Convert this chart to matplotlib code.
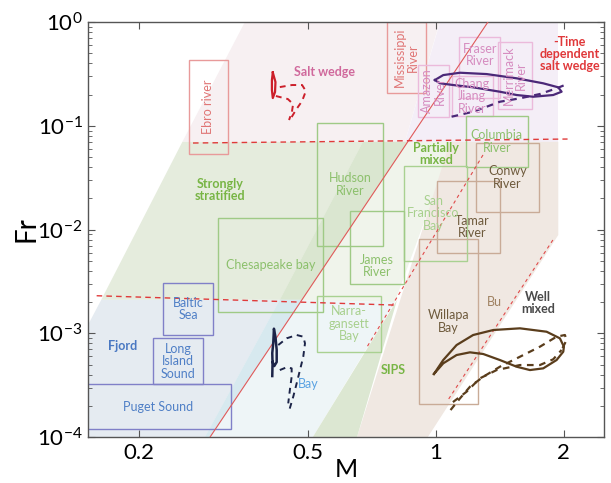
import numpy as np
import matplotlib
matplotlib.use('Agg')
import matplotlib.pyplot as plt
from matplotlib.patches import Rectangle
from matplotlib.ticker import NullLocator, NullFormatter, FixedLocator

plt.rcParams['font.family'] = ['Lato', 'DejaVu Sans']
plt.rcParams['mathtext.fontset'] = 'custom'
plt.rcParams['mathtext.rm'] = 'Lato'
plt.rcParams['mathtext.it'] = 'Lato'
plt.rcParams['axes.unicode_minus'] = False

# ---- shaded regimes (M, Fr corners) ----
salt_wedge_m = [0.355, 1.02, 0.845, 0.253]
salt_wedge_fr = [1.0, 1.0, 0.07, 0.07]
td_wedge_m = [1.02, 1.94, 1.94, 0.845]
td_wedge_fr = [1.0, 1.0, 0.07, 0.07]
strat_m = [0.253, 0.858, 0.484, 0.163]
strat_fr = [0.07, 0.07, 0.0021, 0.0021]
partial_m = [0.673, 1.10, 0.80, 0.429]
partial_fr = [0.07, 0.07, 0.0020, 0.0021]
overlap_m = [0.673, 0.858, 0.484, 0.429]
overlap_fr = [0.07, 0.07, 0.0021, 0.0021]
fjord_m = [0.163, 0.484, 0.294, 0.110]
fjord_fr = [0.0021, 0.0021, 1e-4, 1e-4]
bay_m = [0.429, 0.80, 0.513, 0.286]
bay_fr = [0.0021, 0.0020, 1e-4, 1e-4]
band_m = [0.429, 0.484, 0.294, 0.286]
band_fr = [0.0021, 0.0021, 1e-4, 1e-4]
wellmix_m = [1.079, 1.94, 1.94, 0.957, 0.652]
wellmix_fr = [0.07, 0.07, 0.00885, 1e-4, 1e-4]
sips_m = [0.513, 0.652, 0.81]
sips_fr = [1e-4, 1e-4, 0.0021]

regions = [
    (salt_wedge_m, salt_wedge_fr, '#f7f0f2'),
    (td_wedge_m, td_wedge_fr, '#f4eef7'),
    (strat_m, strat_fr, '#e5ecdd'),
    (partial_m, partial_fr, '#f0f4eb'),
    (overlap_m, overlap_fr, '#dae6d0'),
    (fjord_m, fjord_fr, '#e5ebf1'),
    (bay_m, bay_fr, '#eef5f7'),
    (band_m, band_fr, '#d7e9ef'),
    (wellmix_m, wellmix_fr, '#f0e8e2'),
    (sips_m, sips_fr, '#dce7d2'),
]

# ---- boundary lines ----
red_line_m = [1.325, 0.294]
red_line_fr = [1.0, 1e-4]
upper_dash_m = [0.268, 2.04]
upper_dash_fr = [0.0682, 0.0745]
lower_dash_m = [0.159, 0.80]
lower_dash_fr = [0.0023, 0.00187]
diag1_m = [1.29, 0.688]
diag1_fr = [0.0523, 7.37e-4]
diag2_m = [1.884, 1.067]
diag2_fr = [0.00792, 2.27e-4]

# ---- estuary boxes ----
box_names = ['Ebro river', 'Mississippi\nRiver', 'Amazon\nRiver', 'Fraser\nRiver',
             'Chang\nJiang\nRiver', 'Merrimack\nRiver', 'Columbia\nRiver', 'Conwy\nRiver',
             'Tamar\nRiver', 'San\nFrancisco\nBay', 'Willapa\nBay', 'Hudson\nRiver',
             'James\nRiver', 'Chesapeake bay', 'Narra-\ngansett\nBay', 'Baltic\nSea',
             'Long\nIsland\nSound', 'Puget Sound']
box_m_lo = [0.262, 0.767, 0.907, 1.132, 1.090, 1.399, 1.176, 1.242, 1.005, 0.841,
            0.912, 0.525, 0.627, 0.307, 0.525, 0.228, 0.216, 0.15]
box_m_hi = [0.324, 0.947, 1.073, 1.414, 1.361, 1.682, 1.646, 1.747, 1.414, 1.183,
            1.255, 0.750, 0.841, 0.542, 0.742, 0.299, 0.283, 0.329]
box_fr_lo = [0.0534, 0.207, 0.1214, 0.185, 0.124, 0.145, 0.040, 0.01475, 0.00594,
             0.00497, 0.000208, 0.00693, 0.00298, 0.0016, 0.000659, 0.000962,
             0.000324, 0.000119]
box_fr_hi = [0.430, 1.0, 0.385, 0.717, 0.302, 0.642, 0.124, 0.0682, 0.0293, 0.0409,
             0.0081, 0.1063, 0.01508, 0.0129, 0.00229, 0.00305, 0.0009, 0.000324]
box_group = ['red', 'red', 'pink', 'pink', 'pink', 'pink', 'green', 'brown', 'brown',
             'lgreen', 'brown', 'green', 'green', 'green', 'lgreen', 'blue', 'blue', 'blue']
box_rot = [90, 90, 90, 0, 0, 90, 0, 0, 0, 0, 0, 0, 0, 0, 0, 0, 0, 0]
# label positions that are not the box centre
label_pos = {'Fraser\nRiver': (1.269, 0.481), 'James\nRiver': (0.726, 0.00445),
             'Tamar\nRiver': (1.215, 0.01057), 'San\nFrancisco\nBay': (0.985, 0.0143)}

edge_col = {'red': '#e89a9a', 'pink': '#ebbadb', 'green': '#9fca86', 'lgreen': '#a9d191',
            'brown': '#c9ab97', 'blue': '#8080c8'}
text_col = {'red': '#e07575', 'pink': '#d68cc0', 'green': '#8cc06c', 'lgreen': '#a8d08e',
            'brown': '#6e5a3c', 'blue': '#4f7fc6'}

# ---- tidal trajectories ----
sw_solid_m = [0.413, 0.411, 0.411, 0.413, 0.418, 0.419, 0.413]
sw_solid_fr = [0.326, 0.276, 0.221, 0.185, 0.2115, 0.264, 0.326]
sw_dash1_m = [0.429, 0.458, 0.484, 0.494, 0.484, 0.468, 0.453]
sw_dash1_fr = [0.236, 0.247, 0.247, 0.216, 0.173, 0.142, 0.1136]
sw_dash2_m = [0.420, 0.448, 0.461, 0.458, 0.451]
sw_dash2_fr = [0.1935, 0.181, 0.162, 0.1357, 0.1136]

td_solid_m = [0.994, 1.040, 1.139, 1.316, 1.548, 1.788, 1.939, 1.975, 1.887, 1.694,
              1.548, 1.414, 1.223, 1.098, 1.022, 0.994]
td_solid_fr = [0.276, 0.308, 0.3245, 0.315, 0.2867, 0.2566, 0.2348, 0.2129, 0.1979,
               0.1905, 0.1979, 0.2129, 0.2348, 0.247, 0.2566, 0.276]
td_dash_m = [1.088, 1.223, 1.316, 1.414, 1.576, 1.756, 1.922, 2.029]
td_dash_fr = [0.1223, 0.1366, 0.1527, 0.1705, 0.1839, 0.2023, 0.2296, 0.251]

bay_solid_m = [0.4118, 0.4124, 0.4118, 0.414, 0.4149, 0.4155, 0.419, 0.4218, 0.4218,
               0.4163, 0.4126]
bay_solid_fr = [3.87e-4, 5.16e-4, 6.45e-4, 8.05e-4, 9.62e-4, 1.107e-3, 9.2e-4, 6.9e-4,
                5.28e-4, 4.83e-4, 5.28e-4]
bay_dash1_m = [0.4254, 0.4452, 0.470, 0.4871, 0.4917, 0.4871, 0.4785, 0.470, 0.4614, 0.4516]
bay_dash1_fr = [7.7e-4, 8.94e-4, 9.62e-4, 9.27e-4, 8.0e-4, 5.94e-4, 4.42e-4, 3.29e-4,
                2.45e-4, 1.82e-4]
bay_dash2_m = [0.429, 0.4452, 0.4574, 0.4574, 0.453, 0.449]
bay_dash2_fr = [4.42e-4, 4.7e-4, 4.59e-4, 3.81e-4, 2.84e-4, 2.11e-4]

wm_solid_m = [0.9888, 1.040, 1.118, 1.223, 1.364, 1.576, 1.821, 1.957, 2.0, 1.993,
              1.922, 1.788, 1.664, 1.548, 1.414, 1.292, 1.202, 1.118, 1.040, 0.9888]
wm_solid_fr = [4.05e-4, 5.52e-4, 7.7e-4, 9.62e-4, 1.075e-3, 1.116e-3, 1.035e-3, 8.94e-4,
               7.42e-4, 6.64e-4, 5.52e-4, 4.59e-4, 4.42e-4, 4.76e-4, 5.52e-4, 6.31e-4,
               6.55e-4, 6.17e-4, 5.13e-4, 4.05e-4]
wm_dash1_m = [1.082, 1.139, 1.202, 1.292, 1.414, 1.576, 1.756, 1.922, 2.011, 2.029, 1.975]
wm_dash1_fr = [1.82e-4, 2.36e-4, 3.05e-4, 3.81e-4, 4.76e-4, 5.94e-4, 7.42e-4, 9.27e-4,
               9.62e-4, 8.61e-4, 6.9e-4]
wm_dash2_m = [1.096, 1.180, 1.269, 1.389, 1.576, 1.756, 1.887, 1.975]
wm_dash2_fr = [2.17e-4, 2.73e-4, 3.68e-4, 4.42e-4, 4.94e-4, 4.94e-4, 5.61e-4, 6.9e-4]

# ---- regime labels ----
regime_labels = ['Salt wedge', '-Time\ndependent\nsalt wedge', 'Partially\nmixed',
                 'Strongly\nstratified', 'Fjord', 'Bay', 'SIPS', 'Bu', 'Well\nmixed']
regime_m = [0.548, 2.066, 1.0, 0.310, 0.183, 0.50, 0.792, 1.369, 1.737]
regime_fr = [0.33, 0.491, 0.0534, 0.024, 7.54e-4, 3.24e-4, 4.42e-4, 0.0020, 0.00196]
regime_col = ['#d0699c', '#e0383a', '#78b545', '#78b545', '#4a78c2', '#5aa2e2',
              '#78b545', '#a08262', '#4a4a4a']
regime_bold = [True, True, True, True, True, False, True, False, True]

fig = plt.figure(figsize=(6.11, 4.83), dpi=100)
ax = fig.add_axes([0.144, 0.0952, 0.8445, 0.8592])
ax.set_xscale('log')
ax.set_yscale('log')

for m, fr, c in regions:
    ax.fill(m, fr, color=c, lw=0, zorder=0)

for i, name in enumerate(box_names):
    g = box_group[i]
    m0, m1, f0, f1 = box_m_lo[i], box_m_hi[i], box_fr_lo[i], box_fr_hi[i]
    ax.add_patch(Rectangle((m0, f0), m1 - m0, f1 - f0, fill=False,
                           ec=edge_col[g], lw=1.0, zorder=2))
    xc, yc = label_pos.get(name, (np.sqrt(m0 * m1), np.sqrt(f0 * f1)))
    ax.text(xc, yc, name, ha='center', va='center', rotation=box_rot[i],
            color=text_col[g], fontsize=9, linespacing=1.05, zorder=5)

ax.plot(red_line_m, red_line_fr, color='#e05a5a', lw=0.8, zorder=3)
ax.plot(upper_dash_m, upper_dash_fr, color='#e03a3a', lw=1.0, ls=(0, (4, 3)), zorder=3)
ax.plot(lower_dash_m, lower_dash_fr, color='#e03a3a', lw=1.0, ls=(0, (4, 3)), zorder=3)
ax.plot(diag1_m, diag1_fr, color='#e04a4a', lw=0.8, ls=(0, (3, 3)), zorder=3)
ax.plot(diag2_m, diag2_fr, color='#e04a4a', lw=0.8, ls=(0, (3, 3)), zorder=3)

ax.plot(sw_solid_m, sw_solid_fr, color='#cc1f2a', lw=1.6, zorder=4)
ax.plot(sw_dash1_m, sw_dash1_fr, color='#cc1f2a', lw=1.4, ls=(0, (3, 2.5)), zorder=4)
ax.plot(sw_dash2_m, sw_dash2_fr, color='#cc1f2a', lw=1.4, ls=(0, (3, 2.5)), zorder=4)
ax.plot(td_solid_m, td_solid_fr, color='#4b2878', lw=1.6, zorder=4)
ax.plot(td_dash_m, td_dash_fr, color='#4b2878', lw=1.6, ls=(0, (3, 2.5)), zorder=4)
ax.plot(bay_solid_m, bay_solid_fr, color='#1c2448', lw=1.8, zorder=4)
ax.plot(bay_dash1_m, bay_dash1_fr, color='#1c2448', lw=1.4, ls=(0, (3, 2.5)), zorder=4)
ax.plot(bay_dash2_m, bay_dash2_fr, color='#1c2448', lw=1.4, ls=(0, (3, 2.5)), zorder=4)
ax.plot(wm_solid_m, wm_solid_fr, color='#5a3d1c', lw=1.6, zorder=4)
ax.plot(wm_dash1_m, wm_dash1_fr, color='#5a3d1c', lw=1.6, ls=(0, (3, 2.5)), zorder=4)
ax.plot(wm_dash2_m, wm_dash2_fr, color='#5a3d1c', lw=1.6, ls=(0, (3, 2.5)), zorder=4)

for i, lab in enumerate(regime_labels):
    ax.text(regime_m[i], regime_fr[i], lab, ha='center', va='center',
            color=regime_col[i], fontsize=9, linespacing=1.0,
            fontweight='bold' if regime_bold[i] else 'normal', zorder=6)

ax.set_xlim(0.1517, 2.485)
ax.set_ylim(1e-4, 1)

xt = [0.2, 0.5, 1, 2]
ax.xaxis.set_major_locator(FixedLocator(xt))
ax.xaxis.set_minor_locator(NullLocator())
ax.set_xticklabels(['0.2', '0.5', '1', '2'])
yt = [1e-4, 1e-3, 1e-2, 1e-1, 1]
ax.yaxis.set_major_locator(FixedLocator(yt))
ax.set_yticklabels([r'$\mathregular{10^{%d}}$' % k for k in [-4, -3, -2, -1, 0]])
ax.yaxis.set_minor_formatter(NullFormatter())
ax.tick_params(which='both', direction='in', top=True, right=True,
               labelsize=16, color='#555555')
ax.tick_params(which='major', length=5, width=0.8, pad=4)
ax.tick_params(which='minor', length=3, width=0.6)
for s in ax.spines.values():
    s.set_color('#555555')
    s.set_linewidth(1.0)

ax.set_xlabel('M', fontsize=18, labelpad=-3)
ax.set_ylabel('Fr', fontsize=20, labelpad=-2)

fig.savefig('out.png', dpi=100)
